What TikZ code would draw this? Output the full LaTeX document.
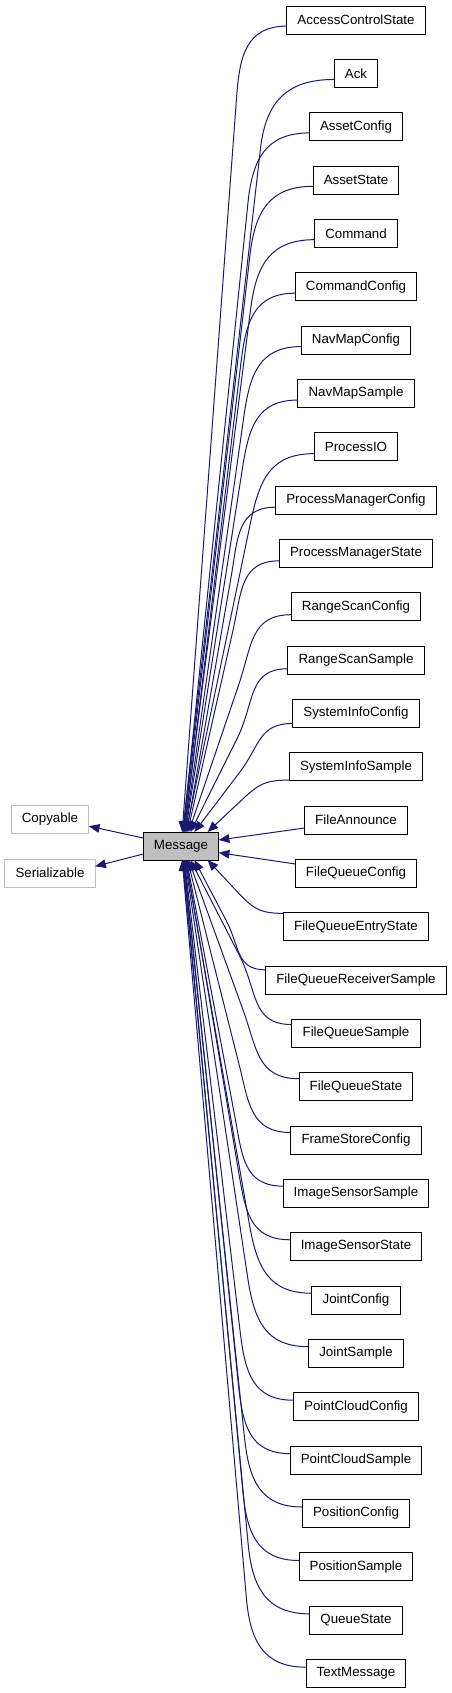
\documentclass[tikz,border=0pt]{standalone}
\usepackage{fontspec}
\setmainfont{Liberation Sans}
\usepackage{tikz}
\usetikzlibrary{arrows.meta,calc}
\definecolor{edgeblue}{HTML}{191970}
\definecolor{boxgray}{HTML}{BFBFBF}
\tikzset{
  cls/.style={draw=black,line width=0.75pt,minimum height=21pt,inner xsep=8pt,inner ysep=0pt,outer sep=0pt,font=\fontsize{10}{12}\selectfont},
  extcls/.style={cls,draw=boxgray},
  edge/.style={draw=edgeblue,line width=0.75pt,-{Triangle[length=8pt,width=6.5pt]}}
}
\begin{document}
\begin{tikzpicture}[x=0.75pt,y=-0.75pt]
\useasboundingbox (0,0) rectangle (451,1693);
% base classes
\node[extcls] (copyable) at (50,819.5) {Copyable};
\node[extcls] (serial) at (50,873) {Serializable};
\node[cls,fill=boxgray] (msg) at (181,846) {Message};
% derived classes
\node[cls] (acs) at (356,20) {AccessControlState};
\node[cls] (ack) at (356,73.3) {Ack};
\node[cls] (assetcfg) at (356,126.7) {AssetConfig};
\node[cls] (assetst) at (356,180) {AssetState};
\node[cls] (cmd) at (356,233.3) {Command};
\node[cls] (cmdcfg) at (356,286.7) {CommandConfig};
\node[cls] (navcfg) at (356,340) {NavMapConfig};
\node[cls] (navsmp) at (356,393.3) {NavMapSample};
\node[cls] (procio) at (356,446.7) {ProcessIO};
\node[cls] (pmcfg) at (356,500) {ProcessManagerConfig};
\node[cls] (pmst) at (356,553.3) {ProcessManagerState};
\node[cls] (rscfg) at (356,606.7) {RangeScanConfig};
\node[cls] (rssmp) at (356,660) {RangeScanSample};
\node[cls] (sicfg) at (356,713.3) {SystemInfoConfig};
\node[cls] (sismp) at (356,766.7) {SystemInfoSample};
\node[cls] (fann) at (356,820) {FileAnnounce};
\node[cls] (fqcfg) at (356,873.3) {FileQueueConfig};
\node[cls] (fqes) at (356,926.7) {FileQueueEntryState};
\node[cls] (fqrs) at (356,980) {FileQueueReceiverSample};
\node[cls] (fqsmp) at (356,1033.3) {FileQueueSample};
\node[cls] (fqst) at (356,1086.7) {FileQueueState};
\node[cls] (fscfg) at (356,1140) {FrameStoreConfig};
\node[cls] (issmp) at (356,1193.3) {ImageSensorSample};
\node[cls] (isst) at (356,1246.7) {ImageSensorState};
\node[cls] (jcfg) at (356,1300) {JointConfig};
\node[cls] (jsmp) at (356,1353.3) {JointSample};
\node[cls] (pccfg) at (356,1406.7) {PointCloudConfig};
\node[cls] (pcsmp) at (356,1460) {PointCloudSample};
\node[cls] (poscfg) at (356,1513.3) {PositionConfig};
\node[cls] (possmp) at (356,1566.7) {PositionSample};
\node[cls] (qst) at (356,1620) {QueueState};
\node[cls] (txt) at (356,1673.3) {TextMessage};
% inheritance
\draw[edge] ([yshift=6pt]msg.west) -- ([yshift=-5pt]copyable.east);
\draw[edge] ([yshift=-6pt]msg.west) -- ([yshift=5pt]serial.east);
\draw[edge] ([yshift=-6pt]fann.west) -- ([yshift=4.5pt]msg.east);
\draw[edge] ([yshift=7pt]fqcfg.west) -- ([yshift=-5pt]msg.east);
\foreach \c/\d in {acs/15.5,ack/14.5,assetcfg/13.5,assetst/12.5,cmd/11.5,cmdcfg/10.5,navcfg/9.5,navsmp/8.5,procio/7.5,pmcfg/6.5,pmst/5.5,rscfg/4.5,rssmp/3.5,sicfg/2.5,sismp/1.5}{
  \pgfmathsetmacro\tx{(1+0.4*(15.5-\d)+45/(\d*\d))*0.75}
  \pgfmathsetmacro\ys{4+9/\d}
  \draw[edge] let \p1=([yshift=-\ys pt]\c.west), \p2=([xshift=\tx pt]msg.north),
    \p3=({0.5*\x1+70pt},{\y1-min(52pt,0.45*(\y1-\y2))}), \n1={atan2(\y3-\y2,\x3-\x2)}
    in (\p1) to[out=180,in=\n1,looseness=1.2] (\p3) -- (\p2);
}
\foreach \c/\d in {fqes/1.5,fqrs/2.5,fqsmp/3.5,fqst/4.5,fscfg/5.5,issmp/6.5,isst/7.5,jcfg/8.5,jsmp/9.5,pccfg/10.5,pcsmp/11.5,poscfg/12.5,possmp/13.5,qst/14.5,txt/15.5}{
  \pgfmathsetmacro\tx{(1+0.4*(15.5-\d)+45/(\d*\d))*0.75}
  \pgfmathsetmacro\ys{4+9/\d}
  \draw[edge] let \p1=([yshift=\ys pt]\c.west), \p2=([xshift=\tx pt]msg.south),
    \p3=({0.5*\x1+70pt},{\y1+min(52pt,0.45*(\y2-\y1))}), \n1={atan2(\y3-\y2,\x3-\x2)}
    in (\p1) to[out=180,in=\n1,looseness=1.2] (\p3) -- (\p2);
}
\end{tikzpicture}
\end{document}
